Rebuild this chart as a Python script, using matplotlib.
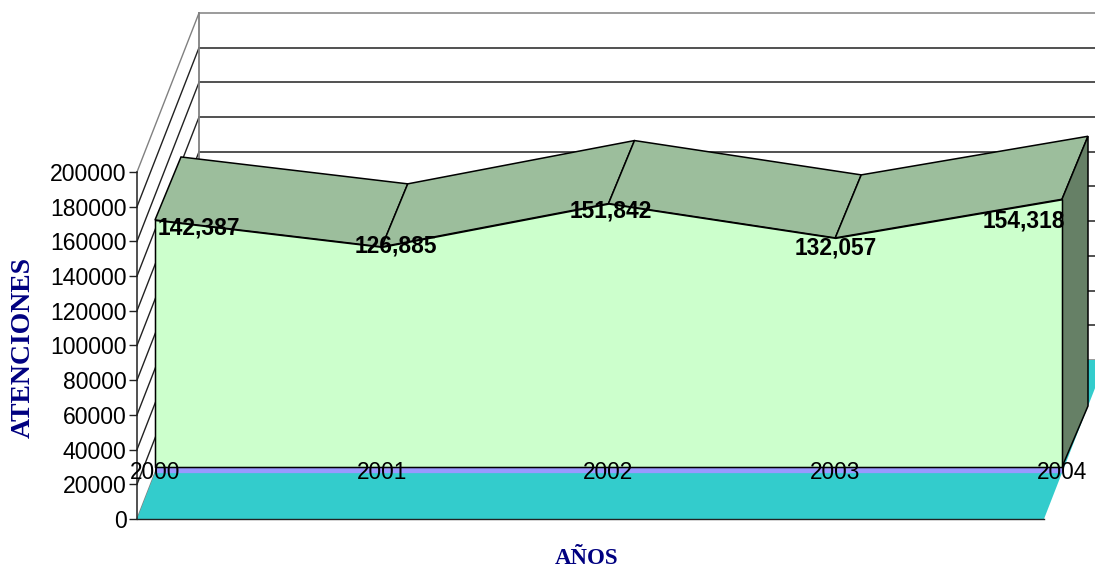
import matplotlib
matplotlib.use('Agg')
import matplotlib.pyplot as plt
from matplotlib.patches import Polygon
from matplotlib.transforms import Affine2D

years = [2000, 2001, 2002, 2003, 2004]
atenciones = [142387, 126885, 151842, 132057, 154318]
value_labels = ['142,387', '126,885', '151,842', '132,057', '154,318']
y_ticks = [0, 20000, 40000, 60000, 80000, 100000, 120000, 140000, 160000, 180000, 200000]

W, H = 1095, 569
plt.rcParams['font.family'] = ['Liberation Sans', 'DejaVu Sans']

fig = plt.figure(figsize=(W / 100, H / 100), dpi=100)


def add_axes_px(left, right, top, bottom):
    return fig.add_axes([left / W, 1 - bottom / H, (right - left) / W, (bottom - top) / H])


# value axis sits on the front edge of the floor
ax = add_axes_px(137, 1044, 172, 519)
ax.set_xlim(2000, 2004)
ax.set_ylim(0, 200000)
ax.patch.set_visible(False)
for s in ['top', 'right', 'bottom']:
    ax.spines[s].set_visible(False)
ax.spines['left'].set_linewidth(1.1)
ax.spines['left'].set_color('#222222')
ax.set_xticks([])
ax.set_yticks(y_ticks)
ax.tick_params(axis='y', length=5.5, width=1.0, pad=2, labelsize=16.6, color='#222222')

# wall and floor depth, pixels
wall_tr = ax.transData + Affine2D().translate(62, 159)

x0, x1 = years[0], years[-1]
floor = Polygon([ax.transData.transform((x0, 0)), ax.transData.transform((x1, 0)),
                 wall_tr.transform((x1, 0)), wall_tr.transform((x0, 0))],
                closed=True, transform=None, facecolor='#33CCCC', edgecolor='none',
                zorder=2, clip_on=False)
ax.add_patch(floor)
ax.plot([x0, x1], [0, 0], color='#222222', lw=1.0, clip_on=False, zorder=2.1)

for v in y_ticks:
    col = '#808080' if v in (0, 200000) else '#222222'
    ax.plot([x0, x1], [v, v], transform=wall_tr, color=col, lw=1.1, clip_on=False, zorder=1)
    a = ax.transData.transform((x0, v))
    b = wall_tr.transform((x0, v))
    ax.plot([a[0], b[0]], [a[1], b[1]], transform=None, color=col, lw=1.0, clip_on=False, zorder=0.5)
ax.plot([x0, x0], [0, 200000], transform=wall_tr, color='#808080', lw=1.3, clip_on=False, zorder=1)

# area series, one plane further in than the value axis
ax2 = add_axes_px(155, 1062, 120, 467)
ax2.set_xlim(2000, 2004)
ax2.set_ylim(0, 200000)
ax2.patch.set_visible(False)
for s in ax2.spines.values():
    s.set_visible(False)
ax2.set_yticks([])
ax2.set_xticks(years)
ax2.set_xticklabels([str(y) for y in years])
ax2.tick_params(axis='x', length=0, pad=-4.5, labelsize=16.3)

tr_top = ax2.transData + Affine2D().translate(26, 63)
tr_base = ax2.transData + Affine2D().translate(26, 61)

for i in range(len(years) - 1):
    p = [ax2.transData.transform((years[i], atenciones[i])),
         ax2.transData.transform((years[i + 1], atenciones[i + 1])),
         tr_top.transform((years[i + 1], atenciones[i + 1])),
         tr_top.transform((years[i], atenciones[i]))]
    ax2.add_patch(Polygon(p, closed=True, transform=None, facecolor='#9CBE9C',
                          edgecolor='black', lw=1.1, zorder=1, clip_on=False))

side = [ax2.transData.transform((x1, 0)),
        ax2.transData.transform((x1, atenciones[-1])),
        tr_top.transform((x1, atenciones[-1])),
        tr_base.transform((x1, 0))]
ax2.add_patch(Polygon(side, closed=True, transform=None, facecolor='#668066',
                      edgecolor='black', lw=1.1, zorder=1, clip_on=False))

# thin strip under the area
strip = ax2.transData + Affine2D().translate(0, -3)
ax2.plot([x0, x1], [0, 0], transform=strip, color='#9999FF', lw=3.8, clip_on=False, zorder=1.2,
         solid_capstyle='butt')

ax2.fill_between(years, atenciones, 0, facecolor='#CCFFCC', edgecolor='black', lw=1.1, zorder=1.5,
                 clip_on=False)

label_dx = [44, 14, 2, 0, -38]
label_dy = [-8, 1, -7, -10, -22]
for y, v, t, dx, dy in zip(years, atenciones, value_labels, label_dx, label_dy):
    ax2.annotate(t, (y, v), xytext=(dx * 0.72, dy * 0.72), textcoords='offset points',
                 ha='center', va='center', fontsize=16.4, fontweight='bold', zorder=6,
                 annotation_clip=False)

fig.text(23 / W, 1 - 347 / H, 'ATENCIONES', rotation=90, ha='center', va='center',
         family=['Liberation Serif'], fontweight='bold', fontsize=20, color='#000080')
fig.text(587 / W, 1 - 559 / H, 'AÑOS', ha='center', va='center',
         family=['Liberation Serif'], fontweight='bold', fontsize=16.5, color='#000080')

fig.savefig('out.png', dpi=100)
